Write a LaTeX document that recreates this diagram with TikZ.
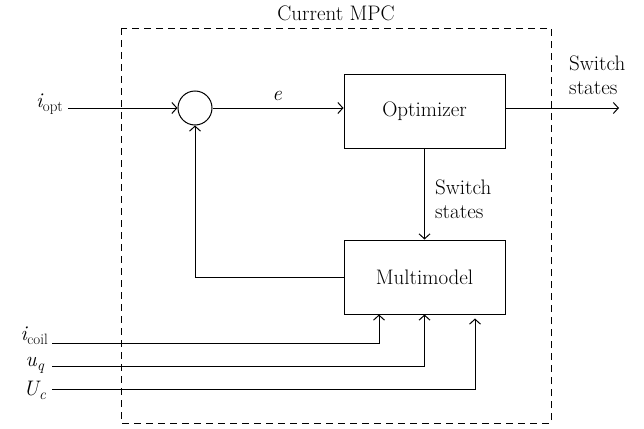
\documentclass[tikz,border=0pt]{standalone}
\usetikzlibrary{arrows.meta,calc}
% variable with a lowered subscript, set in text fonts
\newcommand{\vsub}[2]{{\itshape #1}\kern0.5pt\raisebox{-4.5pt}{\fontsize{15}{15}\selectfont #2}}
\begin{document}
\begin{tikzpicture}[x=1pt,y=-1pt,
  every node/.style={font=\fontsize{21}{24}\selectfont},
  blk/.style={draw,line width=1pt,minimum width=161pt,minimum height=74pt,inner sep=0pt},
  sumnode/.style={circle,draw,line width=1pt,minimum size=34pt,inner sep=0pt},
  sig/.style={line width=1pt,-{Straight Barb[length=5pt,width=11pt]}},
  lbl/.style={inner sep=0pt},
  twoline/.style={inner sep=0pt,align=left,font=\fontsize{21}{24}\selectfont},
  frame/.style={line width=0.9pt,dash pattern=on 7pt off 5pt}]
\useasboundingbox (0,0) rectangle (644,428);

% controller boundary
\draw[frame] (121,28) rectangle (551,423);
\node (title) at (336,13) {Current MPC};

% blocks
\node[sumnode] (sum) at (195,108) {};
\node[blk] (opt) at (424.5,111) {Optimizer};
\node[blk] (mm) at (424.5,277) {Multimodel};

% reference input
\coordinate (iin) at (68,108);
\node[lbl,anchor=base east] (iopt) at (63,107) {\vsub{i}{opt}};
\draw[sig] (iin) -- (sum.west);

% error to optimizer
\draw[sig] (sum.east) -- (sum.east -| opt.west);
\node[lbl] (e) at (277,96) {\itshape e};

% optimizer output
\coordinate (out) at (619,108);
\draw[sig] (sum.east -| opt.east) -- (out);
\node[twoline,anchor=west] (swout) at (569,75) {Switch\\states};

% optimizer to model
\draw[sig] (opt.south) -- (mm.north);
\node[twoline,anchor=west] (swmid) at (435,199) {Switch\\states};

% model feedback
\draw[sig] (mm.west) -| (sum.south);

% measured inputs
\coordinate (ic) at (52,343);
\coordinate (uq) at (52,366);
\coordinate (uc) at (52,389);
\node[lbl,anchor=base east] (icl) at (48,340) {\vsub{i}{coil}};
\node[lbl,anchor=base east] (uql) at (44,366) {\vsub{u}{\itshape q}};
\node[lbl,anchor=base east] (ucl) at (46,395) {\vsub{U}{\itshape c}};
\draw[sig] (ic) -| ([xshift=-45.5pt]mm.south);
\draw[sig] (uq) -| (mm.south);
\draw[sig,shorten >=4pt] (uc) -| ([xshift=50.5pt]mm.south);
\end{tikzpicture}
\end{document}
